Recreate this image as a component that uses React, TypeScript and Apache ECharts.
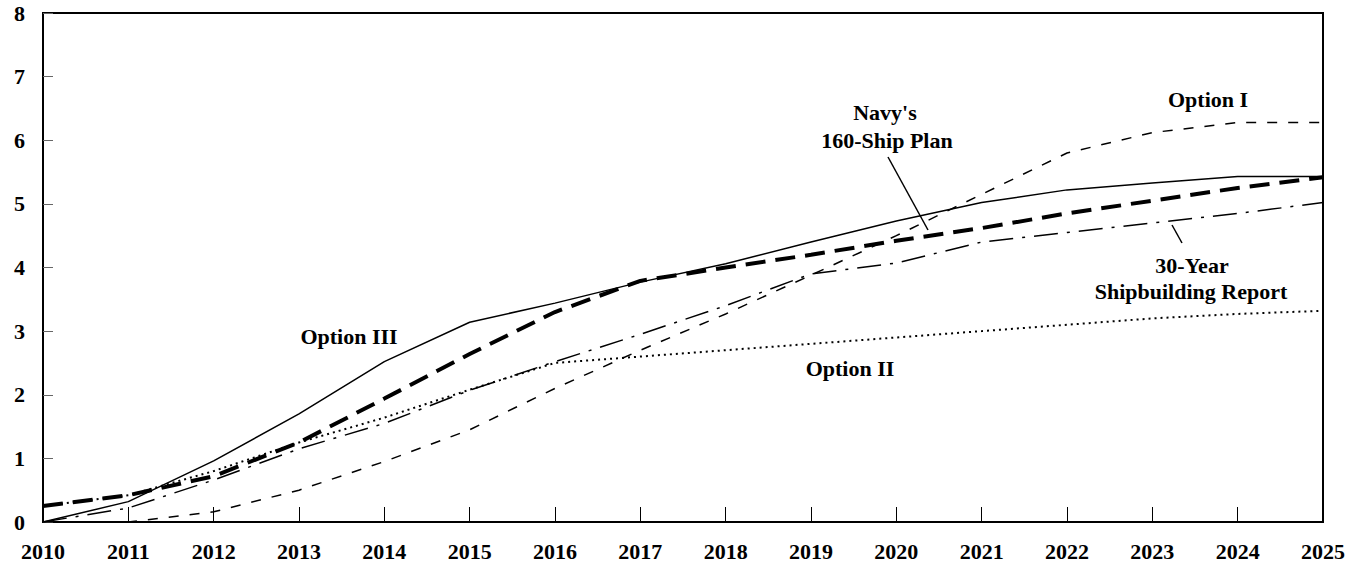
import React, { useEffect, useRef } from "react";
import * as echarts from "echarts";

const years = [2010, 2011, 2012, 2013, 2014, 2015, 2016, 2017, 2018, 2019, 2020, 2021, 2022, 2023, 2024, 2025];
const optionIII = [0, 0.32, 0.96, 1.7, 2.52, 3.14, 3.44, 3.77, 4.06, 4.4, 4.73, 5.02, 5.22, 5.33, 5.43, 5.43];
const navyPlan = [0.25, 0.42, 0.72, 1.25, 1.94, 2.64, 3.3, 3.79, 4.0, 4.2, 4.42, 4.62, 4.85, 5.05, 5.25, 5.42];
const optionII = [0.25, 0.42, 0.8, 1.25, 1.64, 2.08, 2.5, 2.6, 2.7, 2.8, 2.9, 3.0, 3.1, 3.2, 3.27, 3.32];
const thirtyYear = [0, 0.22, 0.66, 1.15, 1.55, 2.07, 2.52, 2.95, 3.4, 3.9, 4.07, 4.4, 4.55, 4.7, 4.85, 5.02];
const optionI = [0, 0, 0.16, 0.5, 0.95, 1.45, 2.1, 2.7, 3.27, 3.88, 4.5, 5.15, 5.8, 6.12, 6.28, 6.28];

const FONT = '"Liberation Serif", "Times New Roman", serif';

function pairs(vals: number[]) {
  return years.map((y, i) => [y, vals[i]]);
}

function label(text: string, x: number, y: number) {
  return {
    type: "text",
    x,
    y,
    z: 100,
    style: {
      text,
      fill: "#000",
      font: `bold 22px ${FONT}`,
      align: "center",
      verticalAlign: "middle",
    },
  };
}

export default function App() {
  const ref = useRef<HTMLDivElement>(null);
  useEffect(() => {
    document.body.style.margin = "0";
    const chart = echarts.init(ref.current!, null, { renderer: "svg" });
    chart.setOption({
      animation: false,
      backgroundColor: "#fff",
      grid: {
        left: 43,
        right: 34,
        top: 13,
        bottom: 45,
        show: true,
        borderColor: "#000",
        borderWidth: 2,
      },
      xAxis: {
        type: "value",
        min: 2010,
        max: 2025,
        interval: 1,
        splitLine: { show: false },
        axisLine: { show: true, lineStyle: { color: "#000", width: 2 } },
        axisTick: { show: true, inside: true, length: 15, lineStyle: { color: "#000", width: 1 } },
        axisLabel: {
          formatter: (v: number) => String(v),
          color: "#000",
          fontFamily: FONT,
          fontWeight: "bold",
          fontSize: 22,
          margin: 18,
        },
      },
      yAxis: {
        type: "value",
        min: 0,
        max: 8,
        interval: 1,
        splitLine: { show: false },
        axisLine: { show: true, lineStyle: { color: "#000", width: 2 } },
        axisTick: { show: true, inside: true, length: 10, lineStyle: { color: "#666", width: 1 } },
        axisLabel: {
          color: "#000",
          fontFamily: FONT,
          fontWeight: "bold",
          fontSize: 22,
          margin: 18,
        },
      },
      series: [
        {
          name: "Option I",
          type: "line",
          data: pairs(optionI),
          symbol: "none",
          lineStyle: { color: "#000", width: 1.5, type: [10, 11] },
        },
        {
          name: "30-Year Shipbuilding Report",
          type: "line",
          data: pairs(thirtyYear),
          symbol: "none",
          lineStyle: { color: "#000", width: 1.5, type: [24, 9, 3, 9] },
        },
        {
          name: "Option II",
          type: "line",
          data: pairs(optionII),
          symbol: "none",
          lineStyle: { color: "#000", width: 2, type: [2, 4] },
        },
        {
          name: "Option III",
          type: "line",
          data: pairs(optionIII),
          symbol: "none",
          lineStyle: { color: "#000", width: 1.5, type: "solid" },
        },
        {
          name: "Navy's 160-Ship Plan",
          type: "line",
          data: pairs(navyPlan),
          symbol: "none",
          lineStyle: { color: "#000", width: 4, type: [20, 10] },
        },
      ],
      graphic: [
        label("Option III", 349, 336),
        label("Option II", 850, 368),
        label("Option I", 1208, 99),
        label("Navy's", 885, 112),
        label("160-Ship Plan", 887, 140),
        label("30-Year", 1192, 265),
        label("Shipbuilding Report", 1191, 291),
        {
          type: "line",
          z: 100,
          shape: { x1: 888, y1: 157, x2: 928, y2: 230 },
          style: { stroke: "#000", lineWidth: 1.5 },
        },
        {
          type: "line",
          z: 100,
          shape: { x1: 1172, y1: 225, x2: 1182, y2: 243 },
          style: { stroke: "#000", lineWidth: 1.5 },
        },
      ],
    });
    return () => chart.dispose();
  }, []);
  return <div ref={ref} style={{ width: 1357, height: 567 }} />;
}
